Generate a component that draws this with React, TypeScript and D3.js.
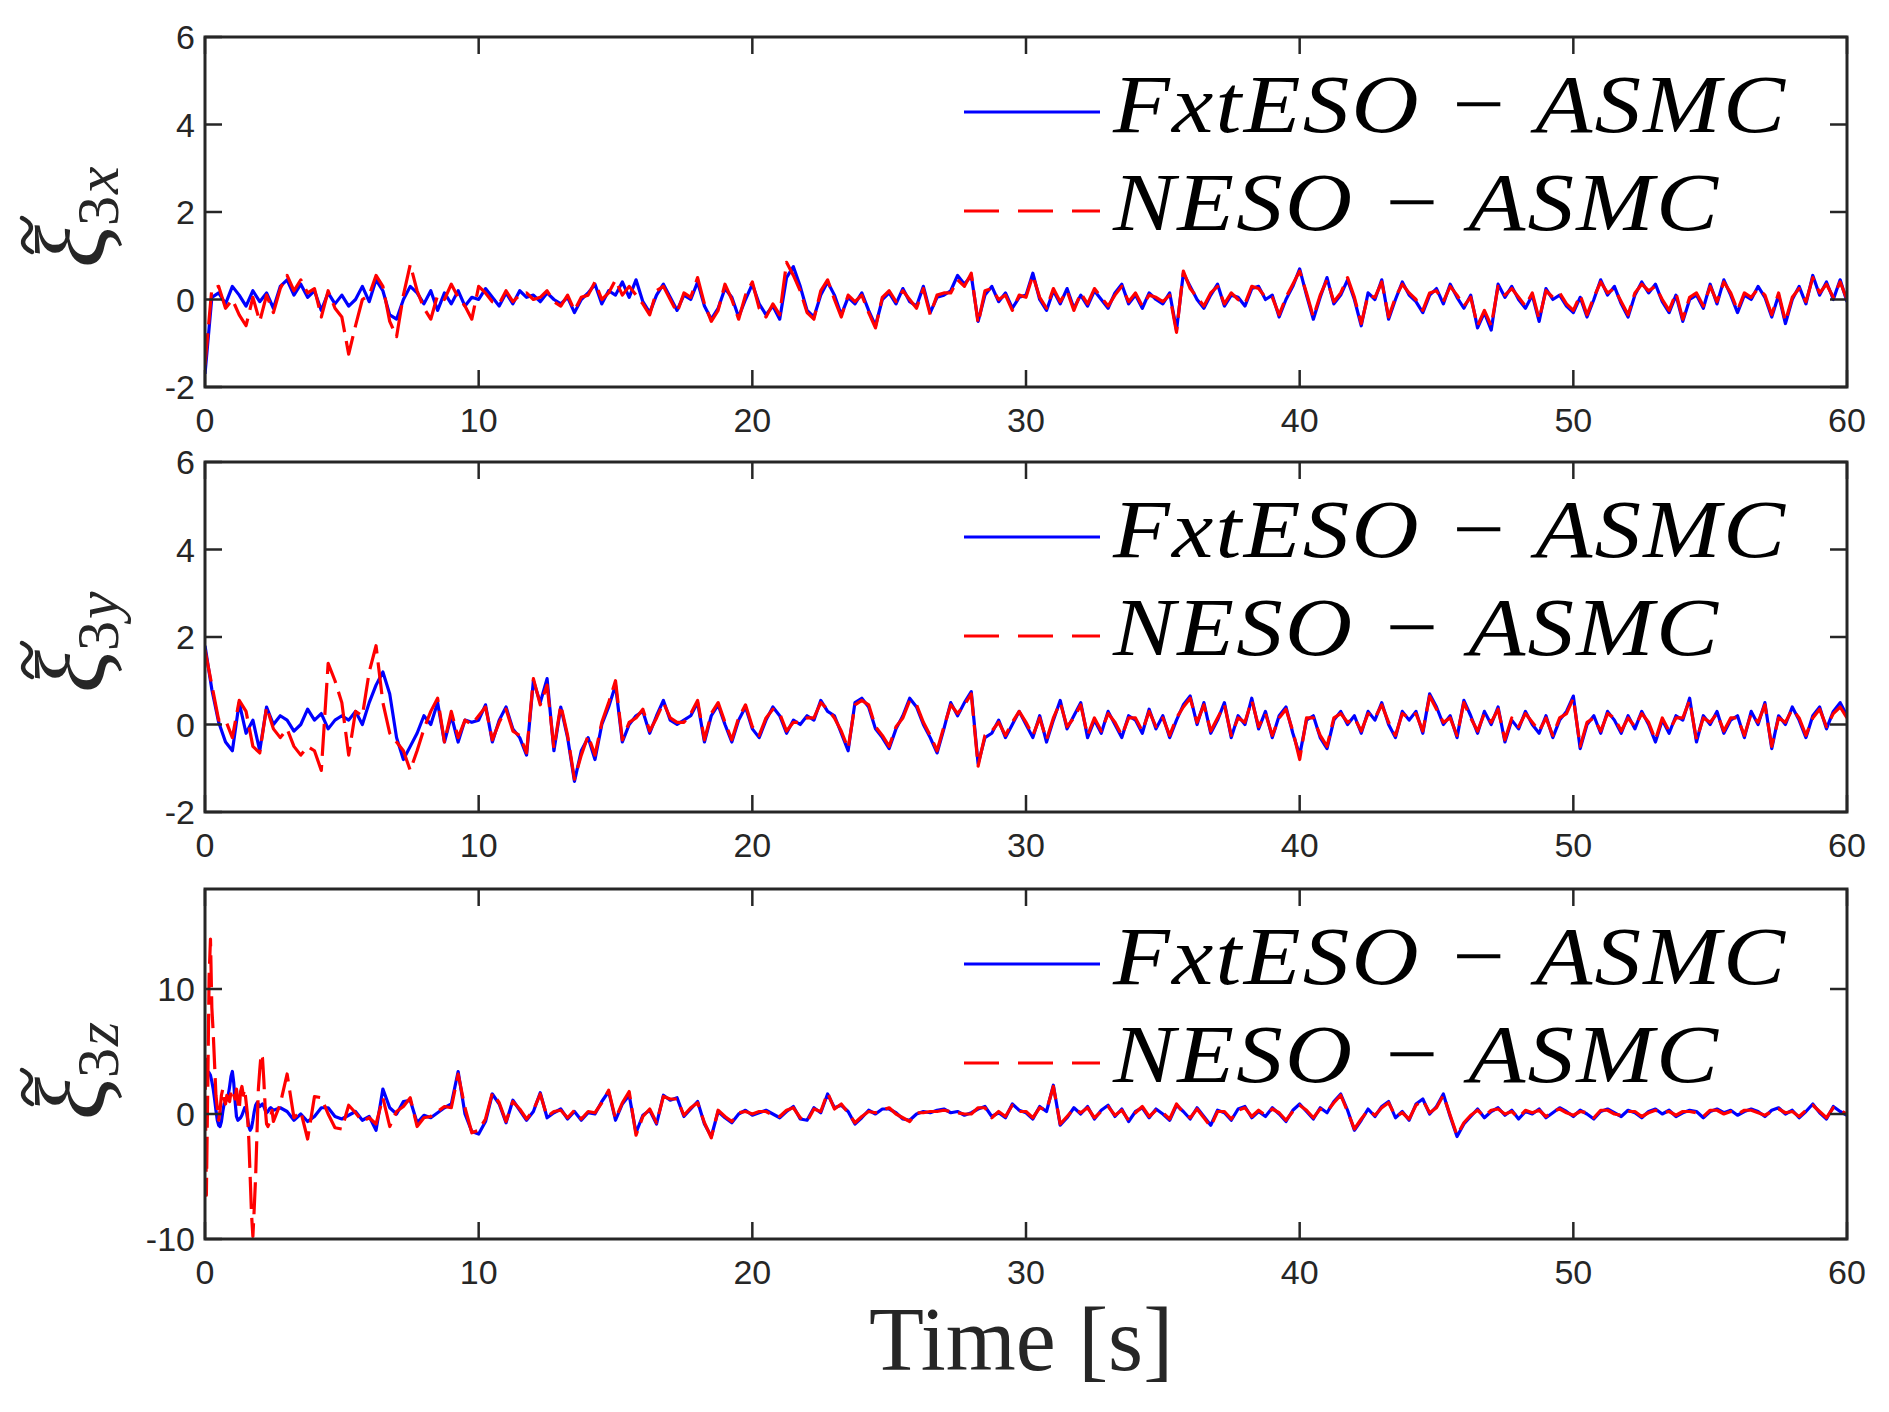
import React from 'react';
import * as d3 from 'd3';

// sample spacing of the traces (seconds)
const DT = 0.25;
const HEAD_DT = 0.05;
const BODY_START = 2.5;

const X_TICKS = [0, 10, 20, 30, 40, 50, 60];
const Y_TICKS_XY = [-2, 0, 2, 4, 6];
const Y_TICKS_Z = [-10, 0, 10];
const SERIES_NAMES = ['FxtESO \u2212 ASMC', 'NESO \u2212 ASMC'];

// xi_3x, t = 0..60 step 0.25
const X_BLUE = [
  -1.7, 0.05, 0.15, -0.1,
  0.3, 0.1, -0.15, 0.2,
  -0.05, 0.15, -0.2, 0.3,
  0.45, 0.1, 0.35, 0.05,
  0.2, -0.25, 0.15, -0.1,
  0.1, -0.15, 0.0, 0.3,
  -0.05, 0.45, 0.2, -0.35,
  -0.45, 0.0, 0.3, 0.15,
  -0.1, 0.2, -0.25, 0.15,
  -0.1, 0.2, -0.15, 0.05,
  0.0, 0.25, 0.05, -0.15,
  0.15, -0.1, 0.2, 0.05,
  0.1, -0.05, 0.15, 0.0,
  -0.1, 0.05, -0.3, 0.0,
  0.15, 0.35, -0.1, 0.2,
  0.1, 0.4, 0.05, 0.45,
  -0.05, -0.3, 0.1, 0.35,
  0.05, -0.25, 0.1, 0.0,
  0.4, -0.15, -0.45, -0.2,
  0.25, 0.05, -0.4, 0.0,
  0.35, -0.1, -0.35, -0.15,
  -0.45, 0.5, 0.75, 0.3,
  -0.25, -0.4, 0.1, 0.4,
  0.1, -0.35, 0.05, -0.1,
  0.15, -0.25, -0.6, 0.0,
  0.15, -0.1, 0.25, -0.05,
  -0.15, 0.3, -0.3, 0.05,
  0.1, 0.2, 0.55, 0.35,
  0.55, -0.5, 0.1, 0.3,
  -0.05, 0.15, -0.2, 0.05,
  0.1, 0.6, 0.0, -0.25,
  0.2, -0.1, 0.25, -0.2,
  0.1, -0.15, 0.2, 0.0,
  -0.2, 0.15, 0.35, -0.1,
  0.1, -0.2, 0.15, 0.0,
  -0.1, 0.15, -0.7, 0.6,
  0.3, 0.0, -0.2, 0.1,
  0.35, -0.15, 0.1, 0.05,
  -0.15, 0.25, 0.3, 0.0,
  0.1, -0.4, 0.0, 0.3,
  0.7, 0.1, -0.45, 0.05,
  0.5, -0.1, 0.1, 0.45,
  0.0, -0.6, 0.15, 0.0,
  0.45, -0.45, 0.0, 0.4,
  0.1, -0.05, -0.3, 0.1,
  0.25, -0.1, 0.35, 0.05,
  -0.2, 0.1, -0.65, -0.3,
  -0.7, 0.35, 0.05, 0.3,
  0.0, -0.2, 0.1, -0.5,
  0.25, 0.0, 0.1, -0.15,
  -0.3, 0.05, -0.4, 0.0,
  0.45, 0.1, 0.3, -0.1,
  -0.4, 0.1, 0.4, 0.15,
  0.35, -0.05, -0.3, 0.1,
  -0.5, 0.0, 0.1, -0.2,
  0.35, -0.1, 0.45, 0.1,
  -0.3, 0.1, 0.0, 0.3,
  0.05, -0.4, 0.1, -0.55,
  0.0, 0.3, -0.1, 0.55,
  0.1, 0.4, 0.0, 0.45,
  -0.05,
];

const X_RED = [
  -1.5, 0.25, 0.3, -0.2,
  0.0, -0.35, -0.6, 0.05,
  -0.5, 0.1, -0.3, 0.25,
  0.55, 0.2, 0.45, 0.15,
  0.25, -0.4, 0.2, -0.2,
  -0.4, -1.25, -0.6, 0.0,
  0.1, 0.55, 0.3, -0.5,
  -0.85, 0.1, 0.8, 0.2,
  -0.2, -0.45, 0.1, 0.0,
  0.35, 0.05, -0.15, -0.45,
  0.3, 0.15, -0.05, -0.1,
  0.2, -0.05, 0.1, 0.15,
  0.0, 0.05, 0.2, -0.05,
  -0.15, 0.1, -0.25, 0.05,
  0.1, 0.4, 0.0, 0.15,
  0.45, 0.1, 0.3, 0.1,
  -0.1, -0.35, 0.2, 0.3,
  0.0, -0.3, 0.15, 0.05,
  0.5, -0.1, -0.5, -0.25,
  0.35, 0.0, -0.45, 0.1,
  0.4, -0.2, -0.4, -0.1,
  -0.35, 0.85, 0.55, 0.2,
  -0.3, -0.45, 0.2, 0.45,
  0.0, -0.4, 0.1, -0.05,
  0.1, -0.3, -0.65, 0.05,
  0.2, -0.05, 0.2, 0.0,
  -0.2, 0.25, -0.35, 0.1,
  0.15, 0.15, 0.45, 0.3,
  0.6, -0.55, 0.2, 0.25,
  0.0, 0.1, -0.25, 0.1,
  0.05, 0.55, 0.05, -0.2,
  0.25, -0.05, 0.2, -0.25,
  0.15, -0.1, 0.25, 0.05,
  -0.15, 0.1, 0.3, -0.05,
  0.15, -0.15, 0.1, 0.05,
  -0.05, 0.1, -0.75, 0.65,
  0.25, 0.05, -0.15, 0.15,
  0.3, -0.1, 0.15, 0.0,
  -0.1, 0.3, 0.25, 0.05,
  0.05, -0.35, 0.05, 0.35,
  0.65, 0.15, -0.4, 0.1,
  0.45, -0.05, 0.15, 0.5,
  0.05, -0.55, 0.1, 0.05,
  0.4, -0.4, 0.05, 0.35,
  0.15, 0.0, -0.25, 0.15,
  0.2, -0.05, 0.3, 0.1,
  -0.15, 0.05, -0.6, -0.25,
  -0.6, 0.3, 0.1, 0.25,
  0.05, -0.15, 0.15, -0.45,
  0.2, 0.05, 0.15, -0.1,
  -0.25, 0.1, -0.35, 0.05,
  0.4, 0.15, 0.25, -0.05,
  -0.35, 0.15, 0.35, 0.2,
  0.3, 0.0, -0.25, 0.15,
  -0.45, 0.05, 0.15, -0.15,
  0.3, -0.05, 0.4, 0.15,
  -0.25, 0.15, 0.05, 0.25,
  0.1, -0.35, 0.15, -0.5,
  0.05, 0.25, -0.05, 0.5,
  0.15, 0.35, 0.05, 0.4,
  0.0,
];

// xi_3y, t = 0..60 step 0.25
const Y_BLUE = [
  1.8, 0.8, 0.05, -0.4,
  -0.6, 0.5, -0.2, 0.1,
  -0.6, 0.4, 0.0, 0.2,
  0.1, -0.15, 0.0, 0.35,
  0.1, 0.25, -0.1, 0.1,
  0.2, 0.1, 0.3, 0.0,
  0.5, 0.9, 1.2, 0.7,
  -0.3, -0.8, -0.5, -0.2,
  0.2, 0.0, 0.5, -0.4,
  0.2, -0.4, 0.1, 0.05,
  0.1, 0.45, -0.4, 0.1,
  0.4, -0.1, -0.3, -0.7,
  1.0, 0.5, 1.05, -0.6,
  0.4, -0.3, -1.3, -0.6,
  -0.3, -0.8, 0.0, 0.4,
  0.9, -0.4, 0.0, 0.2,
  0.3, -0.2, 0.2, 0.55,
  0.1, 0.0, 0.1, 0.2,
  0.5, -0.4, 0.2, 0.45,
  0.0, -0.4, 0.1, 0.4,
  -0.1, -0.3, 0.1, 0.4,
  0.2, -0.2, 0.1, 0.0,
  0.2, 0.1, 0.55, 0.3,
  0.2, -0.2, -0.6, 0.5,
  0.6, 0.4, -0.1, -0.3,
  -0.55, -0.1, 0.2, 0.6,
  0.4, 0.0, -0.3, -0.65,
  -0.1, 0.5, 0.2, 0.5,
  0.75, -0.9, -0.3, -0.2,
  0.1, -0.3, 0.0, 0.3,
  0.0, -0.3, 0.2, -0.4,
  0.1, 0.55, -0.1, 0.2,
  0.5, -0.3, 0.1, -0.2,
  0.3, 0.0, -0.3, 0.2,
  0.1, -0.2, 0.35, -0.1,
  0.2, -0.3, 0.1, 0.45,
  0.65, 0.0, 0.5, -0.2,
  0.1, 0.5, -0.3, 0.2,
  0.0, 0.6, -0.1, 0.3,
  -0.3, 0.2, 0.4, -0.2,
  -0.7, 0.1, 0.2, -0.3,
  -0.55, 0.1, 0.3, 0.0,
  0.2, -0.2, 0.3, 0.1,
  0.5, 0.0, -0.3, 0.3,
  0.1, 0.3, -0.2, 0.7,
  0.4, 0.0, 0.2, -0.3,
  0.55, 0.2, -0.2, 0.3,
  0.0, 0.4, -0.4, 0.1,
  -0.1, 0.3, 0.0, -0.2,
  0.2, -0.3, 0.1, 0.3,
  0.65, -0.55, 0.0, 0.2,
  -0.2, 0.3, 0.1, -0.2,
  0.2, -0.1, 0.3, 0.0,
  -0.4, 0.1, -0.2, 0.2,
  0.1, 0.6, -0.4, 0.2,
  0.0, 0.3, -0.2, 0.1,
  0.2, -0.3, 0.3, 0.0,
  0.5, -0.55, 0.2, 0.0,
  0.4, 0.1, -0.3, 0.2,
  0.4, -0.1, 0.3, 0.5,
  0.2,
];

const Y_RED = [
  1.7, 0.9, 0.1, 0.1,
  -0.3, 0.55, 0.3, -0.5,
  -0.65, 0.4, -0.1, -0.3,
  -0.1, -0.5, -0.7, -0.5,
  -0.6, -1.05, 1.4, 1.0,
  0.5, -0.7, 0.3, 0.2,
  1.2, 1.8, 0.5, -0.2,
  -0.4, -0.6, -1.05, -0.6,
  -0.1, 0.3, 0.6, -0.4,
  0.3, -0.3, 0.1, 0.0,
  0.2, 0.4, -0.35, 0.05,
  0.35, -0.15, -0.25, -0.65,
  1.05, 0.45, 0.9, -0.55,
  0.45, -0.25, -1.25, -0.7,
  -0.25, -0.7, 0.05, 0.5,
  1.0, -0.35, 0.05, 0.15,
  0.35, -0.15, 0.15, 0.5,
  0.15, 0.05, 0.05, 0.25,
  0.55, -0.35, 0.25, 0.5,
  0.05, -0.35, 0.15, 0.45,
  -0.05, -0.25, 0.15, 0.35,
  0.25, -0.15, 0.05, 0.05,
  0.15, 0.15, 0.5, 0.35,
  0.15, -0.15, -0.55, 0.45,
  0.55, 0.45, -0.05, -0.25,
  -0.5, -0.05, 0.15, 0.55,
  0.45, 0.05, -0.25, -0.6,
  -0.05, 0.45, 0.25, 0.45,
  0.7, -0.95, -0.25, -0.15,
  0.05, -0.25, 0.05, 0.3,
  0.05, -0.25, 0.15, -0.35,
  0.15, 0.5, -0.05, 0.15,
  0.45, -0.25, 0.15, -0.15,
  0.25, 0.05, -0.25, 0.15,
  0.15, -0.15, 0.3, -0.05,
  0.15, -0.25, 0.15, 0.4,
  0.6, 0.05, 0.45, -0.15,
  0.15, 0.45, -0.25, 0.15,
  0.05, 0.55, -0.05, 0.25,
  -0.25, 0.15, 0.35, -0.15,
  -0.8, 0.15, 0.15, -0.25,
  -0.5, 0.15, 0.25, 0.05,
  0.15, -0.15, 0.25, 0.15,
  0.45, 0.05, -0.25, 0.25,
  0.15, 0.25, -0.15, 0.65,
  0.35, 0.05, 0.15, -0.25,
  0.5, 0.15, -0.15, 0.25,
  0.05, 0.35, -0.35, 0.15,
  -0.05, 0.25, 0.05, -0.15,
  0.15, -0.25, 0.15, 0.25,
  0.6, -0.5, 0.05, 0.15,
  -0.15, 0.25, 0.15, -0.15,
  0.15, -0.05, 0.25, 0.05,
  -0.35, 0.15, -0.15, 0.15,
  0.15, 0.55, -0.35, 0.15,
  0.05, 0.25, -0.15, 0.15,
  0.15, -0.25, 0.25, 0.05,
  0.45, -0.5, 0.15, 0.05,
  0.35, 0.15, -0.25, 0.15,
  0.35, -0.05, 0.25, 0.4,
  0.15,
];

// xi_3z, first 2.5 s at 0.05 s, then 2.5..60 at 0.25 s
const Z_BLUE_HEAD = [
  3.6, 3.5, 3.4, 3.3, 3.1, 2.6, 2.0, 1.2, 0.3, -0.5,
  -0.9, -1.0, -0.6, 0.2, 0.8, 1.0, 1.2, 1.5, 2.2, 3.0,
  3.4, 2.5, 1.0, -0.2, -0.5, -0.4, -0.3, -0.1, 0.2, 0.5,
  0.4, -0.3, -1.0, -1.3, -1.1, -0.5, 0.2, 0.7, 0.9, 0.8,
  0.6, 0.7, 0.8, 0.6, 0.3, 0.1, 0.2, 0.4, 0.5, 0.4,
];

const Z_RED_HEAD = [
  4.5, -6.5, 2.0, 11.0, 14.0, 8.5, 6.5, 4.0, 1.5, 0.5,
  -0.5, 0.3, 1.5, 2.0, 1.2, 0.8, 1.5, 1.2, 1.0, 1.8,
  2.0, 1.5, 1.2, 2.0, 1.0, 0.3, 1.8, 2.2, 1.5, 2.0,
  1.0, 0.0, -2.0, -5.0, -8.0, -9.8, -7.5, -5.0, -1.5, 2.0,
  3.5, 4.8, 4.5, 2.7, 0.5, -0.8, -1.0, -0.7, -0.2, 0.3,
];

const Z_BLUE = [
  0.3, 0.5,
  0.2, -0.5, 0.0, -0.6,
  -0.2, 0.5, 0.5, -0.2,
  -0.4, -0.1, 0.2, -0.5,
  -0.2, -1.3, 2.0, 0.5,
  0.0, 1.0, 1.1, -0.7,
  -0.1, -0.3, 0.1, 0.5,
  0.8, 3.4, 0.0, -1.4,
  -1.6, -0.6, 1.6, 0.8,
  -0.7, 1.1, 0.3, -0.5,
  0.2, 1.7, -0.3, 0.1,
  0.4, -0.4, 0.2, -0.5,
  0.1, 0.0, 1.0, 1.8,
  -0.5, 0.8, 1.5, -1.5,
  -0.1, 0.3, -0.8, 1.5,
  1.1, 1.3, -0.2, 0.4,
  1.0, -0.8, -1.8, 0.2,
  -0.3, -0.7, 0.0, 0.3,
  -0.1, 0.1, 0.3, 0.0,
  -0.3, 0.2, 0.6, -0.4,
  -0.5, 0.5, 0.1, 1.6,
  0.5, 0.7, 0.2, -0.8,
  -0.3, 0.3, 0.0, 0.4,
  0.4, 0.1, -0.4, -0.5,
  0.0, 0.2, 0.1, 0.3,
  0.4, 0.1, 0.2, -0.1,
  0.1, 0.4, 0.6, -0.2,
  0.1, -0.3, 0.8, 0.3,
  0.1, -0.4, 0.6, 0.2,
  2.3, -0.9, -0.3, 0.5,
  0.0, 0.6, -0.4, 0.3,
  0.7, -0.2, 0.4, -0.6,
  0.2, 0.5, -0.3, 0.4,
  0.0, -0.5, 0.7, 0.2,
  -0.4, 0.5, -0.2, -0.9,
  0.3, 0.1, -0.5, 0.4,
  0.6, -0.3, 0.2, -0.2,
  0.5, 0.0, -0.6, 0.3,
  0.8, 0.2, -0.4, 0.5,
  0.1, 1.0, 1.6, 0.3,
  -1.3, -0.5, 0.4, -0.2,
  0.6, 1.0, -0.3, 0.2,
  -0.5, 0.8, 1.2, 0.0,
  0.6, 1.6, -0.2, -1.8,
  -0.8, -0.2, 0.4, -0.3,
  0.2, 0.5, -0.1, 0.3,
  -0.4, 0.2, 0.0, 0.4,
  -0.3, 0.1, 0.5, 0.2,
  -0.2, 0.3, 0.0, -0.4,
  0.2, 0.4, 0.1, -0.2,
  0.3, 0.1, -0.3, 0.2,
  0.4, 0.0, 0.3, -0.2,
  0.1, 0.3, 0.2, -0.3,
  0.2, 0.4, 0.1, 0.3,
  -0.1, 0.2, 0.4, 0.2,
  -0.2, 0.3, 0.5, 0.0,
  0.3, -0.3, 0.2, 0.8,
  0.1, -0.4, 0.6, 0.2,
  -0.1,
];

const Z_RED = [
  -0.6, 0.8,
  3.2, -0.3, 0.2, -2.0,
  1.4, 1.3, 0.0, -1.1,
  -1.2, 0.7, 0.1, -0.6,
  -0.3, -0.8, 1.3, -1.0,
  0.2, 0.6, 1.3, -1.0,
  -0.3, -0.2, 0.2, 0.6,
  0.5, 3.2, 0.5, -1.5,
  -1.3, -0.4, 1.7, 0.9,
  -0.6, 1.0, 0.4, -0.4,
  0.3, 1.6, -0.2, 0.2,
  0.3, -0.3, 0.3, -0.4,
  0.2, 0.1, 0.9, 1.9,
  -0.4, 0.9, 1.8, -1.7,
  -0.2, 0.4, -0.7, 1.4,
  1.2, 1.2, -0.1, 0.5,
  0.9, -0.7, -1.9, 0.3,
  -0.2, -0.6, 0.1, 0.2,
  0.0, 0.2, 0.2, -0.1,
  -0.2, 0.3, 0.5, -0.3,
  -0.6, 0.4, 0.2, 1.7,
  0.4, 0.8, 0.1, -0.7,
  -0.2, 0.2, 0.1, 0.3,
  0.5, 0.0, -0.3, -0.6,
  0.1, 0.1, 0.2, 0.2,
  0.3, 0.2, 0.1, 0.0,
  0.0, 0.5, 0.5, -0.3,
  0.2, -0.2, 0.7, 0.2,
  0.2, -0.3, 0.5, 0.3,
  2.2, -0.8, -0.2, 0.4,
  0.1, 0.5, -0.3, 0.2,
  0.6, -0.1, 0.3, -0.5,
  0.1, 0.6, -0.2, 0.3,
  0.1, -0.4, 0.8, 0.1,
  -0.3, 0.4, -0.3, -1.0,
  0.2, 0.2, -0.4, 0.3,
  0.5, -0.2, 0.3, -0.1,
  0.4, 0.1, -0.5, 0.2,
  0.7, 0.3, -0.3, 0.4,
  0.2, 0.9, 1.5, 0.2,
  -1.2, -0.4, 0.3, -0.1,
  0.5, 0.9, -0.2, 0.1,
  -0.4, 0.7, 1.1, 0.1,
  0.5, 1.5, -0.1, -1.7,
  -0.7, -0.1, 0.3, -0.2,
  0.3, 0.4, 0.0, 0.2,
  -0.3, 0.3, 0.1, 0.3,
  -0.2, 0.2, 0.4, 0.1,
  -0.1, 0.2, 0.1, -0.3,
  0.3, 0.3, 0.0, -0.1,
  0.2, 0.2, -0.2, 0.1,
  0.3, 0.1, 0.2, -0.1,
  0.2, 0.2, 0.1, -0.2,
  0.3, 0.3, 0.0, 0.2,
  0.0, 0.3, 0.3, 0.1,
  -0.1, 0.2, 0.4, 0.1,
  0.2, -0.2, 0.3, 0.7,
  0.2, -0.3, 0.5, 0.3,
  0.0,
];

type Pt = [number, number];
const pts = (vals: number[], t0: number, dt: number): Pt[] => vals.map((v, i) => [t0 + i * dt, v]);

const PANELS = [
  { sub: 'x', domain: [-2, 6], ticks: Y_TICKS_XY, blue: pts(X_BLUE, 0, DT), red: pts(X_RED, 0, DT) },
  { sub: 'y', domain: [-2, 6], ticks: Y_TICKS_XY, blue: pts(Y_BLUE, 0, DT), red: pts(Y_RED, 0, DT) },
  {
    sub: 'z', domain: [-10, 18], ticks: Y_TICKS_Z,
    blue: [...pts(Z_BLUE_HEAD, 0, HEAD_DT), ...pts(Z_BLUE, BODY_START, DT)],
    red: [...pts(Z_RED_HEAD, 0, HEAD_DT), ...pts(Z_RED, BODY_START, DT)],
  },
];

const W = 1889;
const H = 1412;
const LEFT = 205;
const RIGHT = 1847;
const PANEL_TOPS = [37, 462, 889];
const PANEL_H = 350;
const AXIS_COLOR = '#262626';
const TICK_FONT = '"Liberation Sans", Arial, sans-serif';
const SERIF = '"Liberation Serif", "Times New Roman", serif';
// legend glyphs are stretched a little to get the wide math-italic look
const LEGEND_SX = 1.12;

const Panel: React.FC<{ p: typeof PANELS[number]; top: number; idx: number }> = ({ p, top, idx }) => {
  const x = d3.scaleLinear().domain([0, 60]).range([LEFT, RIGHT]);
  const y = d3.scaleLinear().domain(p.domain).range([top + PANEL_H, top]);
  const line = d3.line<Pt>().x(d => x(d[0])).y(d => y(d[1]));
  const bottom = top + PANEL_H;
  const clipId = `clip${idx}`;
  const tl = 17;
  const cy = top + PANEL_H / 2;
  const lx = 964, lx2 = 1100;

  return (
    <g>
      <defs>
        <clipPath id={clipId}>
          <rect x={LEFT} y={top} width={RIGHT - LEFT} height={PANEL_H} />
        </clipPath>
      </defs>
      <g clipPath={`url(#${clipId})`} fill="none" strokeWidth={3.2} strokeLinejoin="round">
        <path d={line(p.blue) || ''} stroke="#0000ff" />
        <path d={line(p.red) || ''} stroke="#ff0000" strokeDasharray="32 9" />
      </g>

      {/* ticks, inward on all four sides */}
      <g stroke={AXIS_COLOR} strokeWidth={2.5}>
        {X_TICKS.map(t => (
          <g key={`xt${t}`}>
            <line x1={x(t)} x2={x(t)} y1={bottom} y2={bottom - tl} />
            <line x1={x(t)} x2={x(t)} y1={top} y2={top + tl} />
          </g>
        ))}
        {p.ticks.map(t => (
          <g key={`yt${t}`}>
            <line x1={LEFT} x2={LEFT + tl} y1={y(t)} y2={y(t)} />
            <line x1={RIGHT} x2={RIGHT - tl} y1={y(t)} y2={y(t)} />
          </g>
        ))}
      </g>
      <rect x={LEFT} y={top} width={RIGHT - LEFT} height={PANEL_H} fill="none" stroke={AXIS_COLOR} strokeWidth={3} />

      <g fontFamily={TICK_FONT} fontSize={34} fill={AXIS_COLOR}>
        {X_TICKS.map(t => (
          <text key={`xl${t}`} x={x(t)} y={bottom + 45} textAnchor="middle">{t}</text>
        ))}
        {p.ticks.map(t => (
          <text key={`yl${t}`} x={LEFT - 10} y={y(t) + 12} textAnchor="end">{t}</text>
        ))}
      </g>

      {/* y label: tilde xi with subscript */}
      <g transform={`translate(104,${cy}) rotate(-90)`} fill={AXIS_COLOR} fontFamily={SERIF}>
        <path d="M -40 -72 C -34 -84, -28 -82, -23 -77 C -18 -72, -12 -70, -6 -82" fill="none" stroke={AXIS_COLOR} strokeWidth={4.5} strokeLinecap="round" />
        <text x={-56} y={0} fontSize={100} fontStyle="italic">ξ</text>
        <text x={-14} y={14} fontSize={60}>3</text>
        <text x={18} y={14} fontSize={62} fontStyle="italic">{p.sub}</text>
      </g>

      {/* legend */}
      <line x1={lx} x2={lx2} y1={top + 75} y2={top + 75} stroke="#0000ff" strokeWidth={3} />
      <line x1={lx} x2={lx2} y1={top + 174} y2={top + 174} stroke="#ff0000" strokeWidth={3} strokeDasharray="35 19" />
      <g fontFamily={SERIF} fontStyle="italic" fontSize={83} fill="#000">
        <g transform={`translate(1113,${top + 95}) scale(${LEGEND_SX},1)`}>
          <text x={0} y={0} textLength={672 / LEGEND_SX} lengthAdjust="spacing">{SERIES_NAMES[0]}</text>
        </g>
        <g transform={`translate(1113,${top + 193}) scale(${LEGEND_SX},1)`}>
          <text x={0} y={0} textLength={605 / LEGEND_SX} lengthAdjust="spacing">{SERIES_NAMES[1]}</text>
        </g>
      </g>
    </g>
  );
};

export default function App() {
  return (
    <svg width={W} height={H} style={{ position: 'absolute', left: 0, top: 0, background: '#fff' }}>
      <rect width={W} height={H} fill="#fff" />
      {PANELS.map((p, i) => (
        <Panel key={p.sub} p={p} top={PANEL_TOPS[i]} idx={i} />
      ))}
      <text x={(LEFT + RIGHT) / 2 - 5} y={1370} textAnchor="middle" fontFamily={SERIF} fontSize={90} fill={AXIS_COLOR}>
        Time [s]
      </text>
    </svg>
  );
}
